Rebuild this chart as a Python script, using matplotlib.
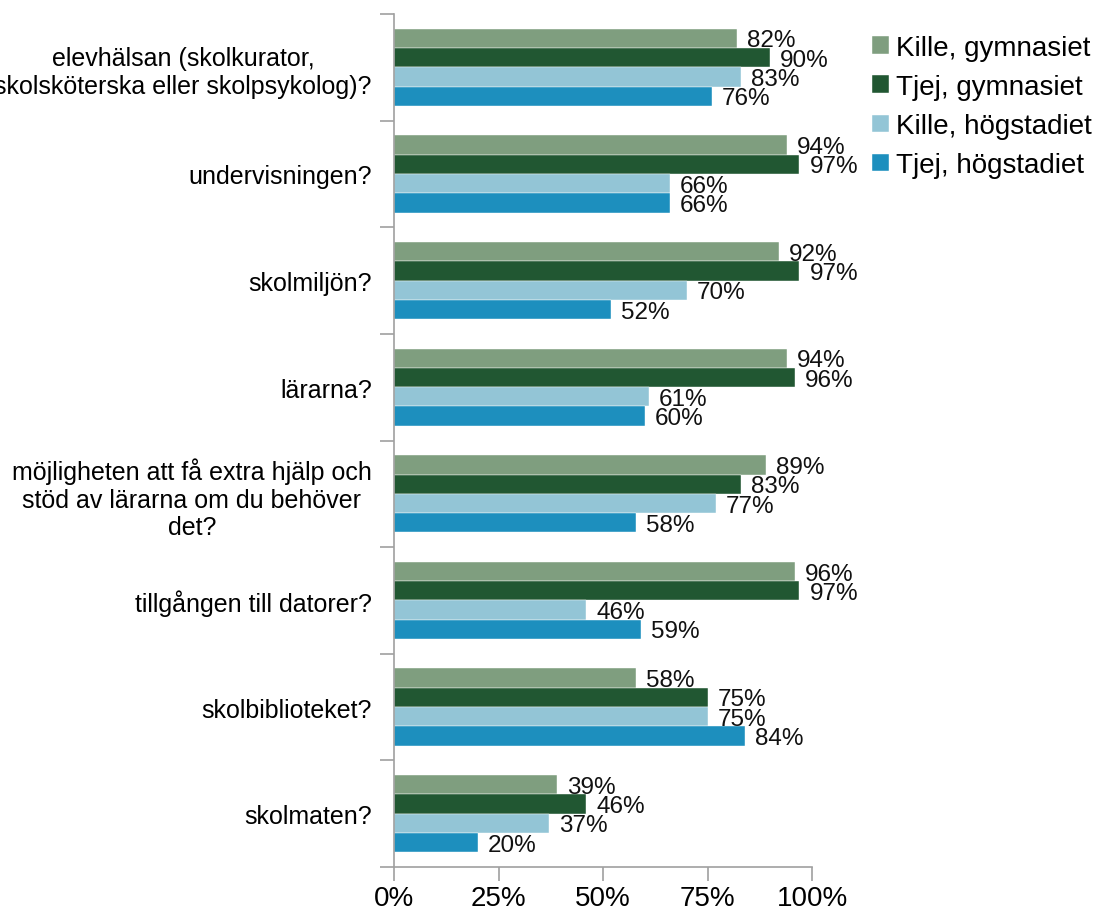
import matplotlib
matplotlib.use("Agg")
import matplotlib.pyplot as plt
import numpy as np

plt.rcParams['font.family'] = ['Liberation Sans', 'DejaVu Sans']

categories = [
    "elevhälsan (skolkurator,\nskolsköterska eller skolpsykolog)?",
    "undervisningen?",
    "skolmiljön?",
    "lärarna?",
    "möjligheten att få extra hjälp och\nstöd av lärarna om du behöver\ndet?",
    "tillgången till datorer?",
    "skolbiblioteket?",
    "skolmaten?",
]
series_names = ["Kille, gymnasiet", "Tjej, gymnasiet", "Kille, högstadiet", "Tjej, högstadiet"]
kille_gymnasiet = [82, 94, 92, 94, 89, 96, 58, 39]
tjej_gymnasiet = [90, 97, 97, 96, 83, 97, 75, 46]
kille_hogstadiet = [83, 66, 70, 61, 77, 46, 75, 37]
tjej_hogstadiet = [76, 66, 52, 60, 58, 59, 84, 20]
colors = ["#7F9E7F", "#215732", "#93C5D6", "#1D8FBE"]
xticks = [0, 25, 50, 75, 100]

series = [kille_gymnasiet, tjej_gymnasiet, kille_hogstadiet, tjej_hogstadiet]

fig = plt.figure(figsize=(10.99, 9.12), dpi=100)
ax = fig.add_axes([394/1099, 1-868/912, (812-394)/1099, (868-15)/912])

y = np.arange(len(categories))
h = 0.181
offsets = [-1.5*h, -0.5*h, 0.5*h, 1.5*h]
for s, name, c, off in zip(series, series_names, colors, offsets):
    ax.barh(y + off, s, height=h, color=c, label=name, edgecolor='white', linewidth=0.3)
    for yi, v in zip(y + off, s):
        ax.annotate(f"{v}%", (v, yi), xytext=(7.2, -1.5), textcoords='offset points',
                    va='center', ha='left', fontsize=17.5, color='#111111')

ax.set_xlim(0, 100)
ax.set_ylim(len(categories) - 0.5, -0.5)
ax.set_xticks(xticks)
ax.set_xticklabels([f"{t}%" for t in xticks], fontsize=20)
ax.set_yticks(y)
ax.set_yticklabels(categories, fontsize=18, multialignment='center')
ax.tick_params(axis='y', length=0, pad=16)
ax.set_yticks(np.arange(-0.5, len(categories)), minor=True)
ax.tick_params(axis='y', which='minor', length=10, color='#A0A0A0', width=1.2)
ax.tick_params(axis='x', length=10, color='#A0A0A0', width=1.2, pad=3)

for side in ['top', 'right']:
    ax.spines[side].set_visible(False)
for side in ['left', 'bottom']:
    ax.spines[side].set_color('#A0A0A0')
    ax.spines[side].set_linewidth(1.2)

handles, labels = ax.get_legend_handles_labels()
fig.legend(handles, labels, loc='upper left', bbox_to_anchor=(872/1099, 1-36/912),
           frameon=False, fontsize=20, handlelength=0.6, handleheight=0.6,
           handletextpad=0.25, labelspacing=0.47, borderaxespad=0, borderpad=0)

fig.savefig("out.png", dpi=100)
